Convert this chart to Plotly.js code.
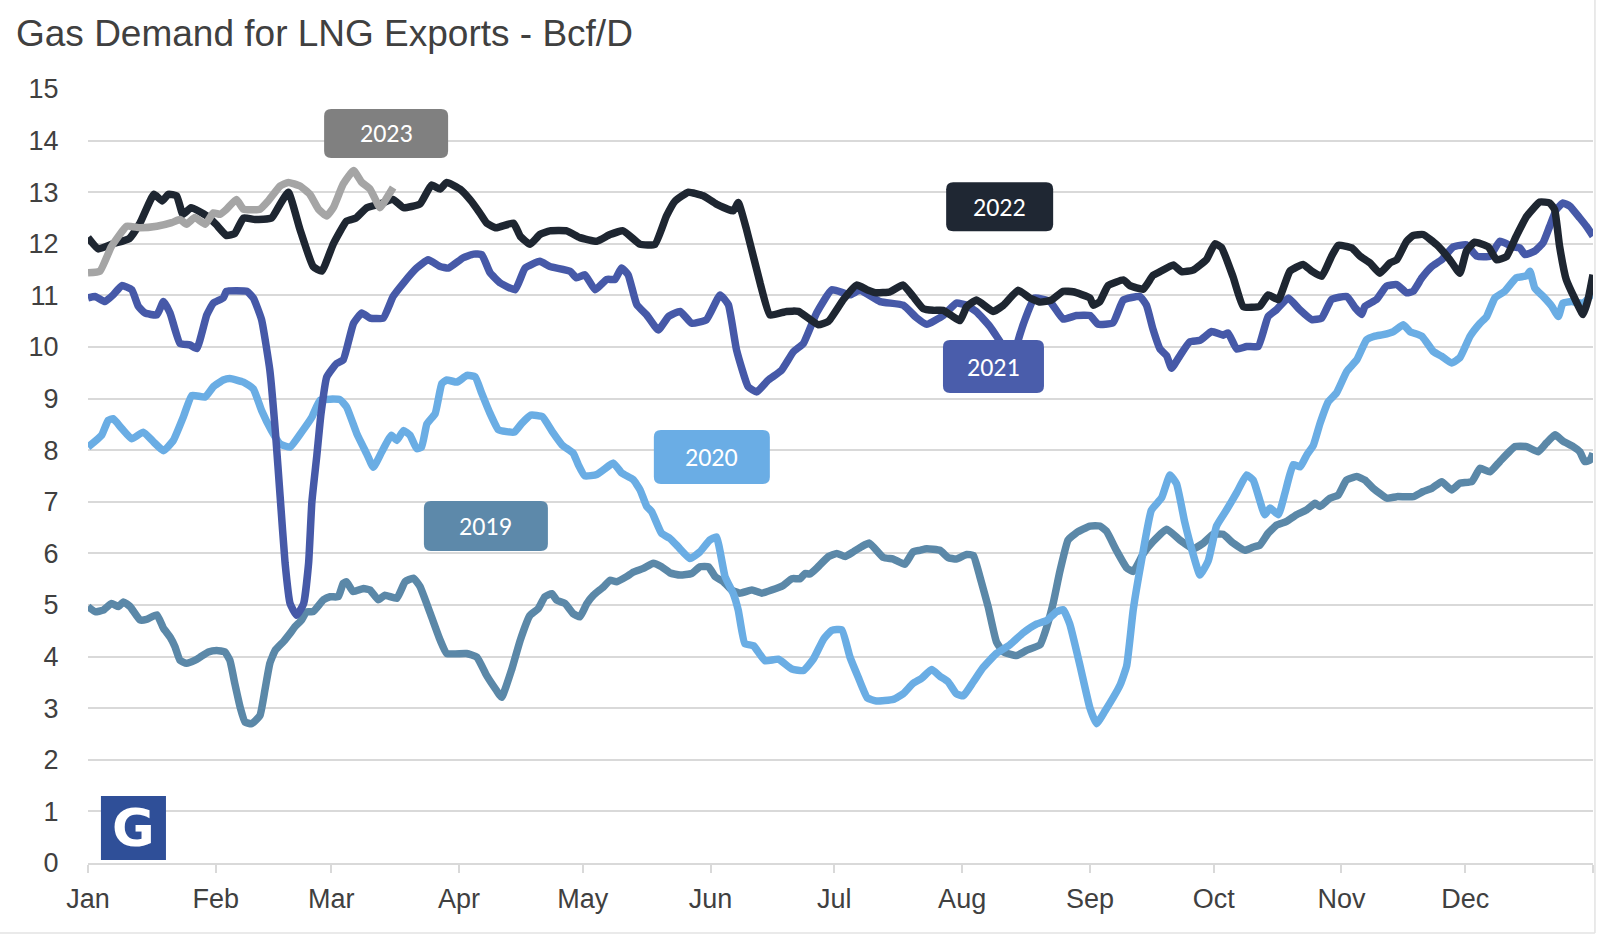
<!DOCTYPE html>
<html>
<head>
<meta charset="utf-8">
<script src="https://cdn.plot.ly/plotly-3.0.1.min.js"></script>
<style>
html,body{margin:0;padding:0;background:#ffffff;}
#chart{width:1600px;height:938px;}
</style>
</head>
<body>
<div id="chart"></div>
<script>
// ---- Axis labels ----
const monthLabels = ['Jan','Feb','Mar','Apr','May','Jun','Jul','Aug','Sep','Oct','Nov','Dec',''];
const monthStartDays = [0,31,59,90,120,151,181,212,243,273,304,334,365];

// ---- Series data: [day of year, Bcf/D] ----
const series2019 = [[0,4.97],[1.7,4.87],[3.7,4.9],[5.7,5.03],[7.4,4.97],[8.6,5.06],[10.2,4.97],[12.6,4.71],[14.2,4.72],[16.7,4.81],[18.3,4.55],[19.9,4.38],[21.1,4.19],[22.3,3.93],[23.9,3.87],[26,3.93],[27.2,3.99],[29.2,4.09],[31.2,4.12],[33.2,4.09],[34.4,3.93],[35.6,3.48],[36.9,3.02],[38.1,2.73],[39.7,2.7],[41.7,2.86],[42.9,3.35],[44.1,3.87],[45.4,4.12],[47.4,4.29],[49,4.45],[50.2,4.58],[51.8,4.71],[53,4.87],[54.6,4.87],[57.1,5.1],[58.7,5.16],[60.7,5.16],[61.9,5.42],[62.7,5.45],[64.3,5.26],[66.8,5.32],[68.4,5.29],[70.4,5.1],[72,5.19],[74.9,5.13],[76.9,5.45],[78.9,5.52],[80.5,5.36],[83,4.84],[85.4,4.32],[87,4.06],[91.8,4.06],[94.3,3.99],[96.7,3.63],[99.1,3.34],[100.3,3.21],[102.8,3.76],[104.8,4.31],[107.2,4.8],[109.2,4.93],[110.8,5.16],[112.5,5.22],[113.7,5.09],[115.7,5.03],[117.7,4.83],[119.3,4.77],[121,5.03],[122.6,5.19],[125,5.35],[126.6,5.48],[128.2,5.45],[130.6,5.55],[132.3,5.64],[134.7,5.71],[137.1,5.81],[139.1,5.74],[141.2,5.62],[143.6,5.58],[146.4,5.61],[148.4,5.74],[150.5,5.74],[152.1,5.55],[154.1,5.45],[156.1,5.29],[158.1,5.23],[161,5.29],[163.4,5.23],[165.8,5.29],[168.6,5.38],[170.7,5.51],[172.7,5.51],[173.9,5.61],[175.1,5.6],[176.7,5.71],[179.6,5.94],[181.6,6.0],[183.6,5.94],[185.6,6.03],[187.6,6.13],[189.5,6.2],[192.9,5.92],[195.3,5.89],[198.1,5.79],[200.1,6.03],[201.8,6.06],[203.4,6.09],[206.6,6.06],[208.6,5.92],[210.6,5.89],[213.1,5.98],[214.7,5.96],[216.3,5.55],[218.3,4.97],[220.3,4.29],[222,4.09],[225.2,4.02],[227.6,4.12],[230.9,4.23],[232.5,4.57],[234.1,5.04],[235.7,5.65],[237.7,6.26],[239.7,6.4],[243,6.53],[245.4,6.53],[247,6.43],[249.4,6.06],[251.9,5.72],[253.5,5.65],[255.9,5.99],[258.3,6.23],[261.6,6.47],[264.8,6.26],[268,6.09],[270.5,6.2],[272.9,6.37],[275.3,6.37],[277.7,6.2],[280.6,6.06],[282.5,6.12],[284.2,6.16],[286.2,6.39],[288.3,6.55],[290.7,6.62],[293.1,6.75],[295.5,6.84],[297.6,6.97],[298.8,6.91],[301.2,7.07],[303.2,7.13],[305.2,7.42],[307.7,7.49],[309.7,7.42],[311.7,7.26],[315,7.07],[317.4,7.1],[321.4,7.1],[323.8,7.2],[325.9,7.26],[328.3,7.39],[330.7,7.23],[332.7,7.36],[335.6,7.39],[337.6,7.65],[340,7.58],[342.4,7.78],[346.1,8.07],[348.9,8.07],[351.7,7.97],[353.7,8.14],[355.8,8.3],[357.8,8.17],[360.2,8.07],[361.8,7.97],[363,7.78],[364.3,7.81],[365,7.94]];

const series2020 = [[0,8.06],[3.3,8.29],[4.9,8.58],[6.1,8.61],[8.2,8.42],[10.6,8.22],[13.4,8.35],[15.9,8.16],[18.3,7.99],[20.7,8.19],[23.1,8.64],[25.2,9.06],[28.4,9.03],[30.4,9.23],[32.8,9.36],[34.4,9.39],[37.7,9.32],[40.1,9.19],[42.1,8.77],[44.5,8.38],[46.6,8.12],[49,8.06],[51.8,8.35],[54.3,8.64],[56.3,8.97],[61.1,8.98],[62.7,8.84],[65.2,8.32],[67.6,7.93],[69.2,7.67],[71.2,7.96],[73.6,8.29],[74.9,8.19],[76.5,8.38],[78.1,8.29],[79.7,8.03],[80.9,8.06],[82.2,8.51],[84.2,8.71],[85.8,9.29],[87,9.36],[89.5,9.32],[91.9,9.45],[93.9,9.42],[95.5,9.1],[97.3,8.75],[99.5,8.4],[101.5,8.36],[103.4,8.35],[105.2,8.52],[107.4,8.68],[110.2,8.65],[112.6,8.36],[115,8.1],[117.7,7.94],[118.9,7.72],[120.5,7.5],[123.4,7.53],[125,7.62],[127.4,7.75],[129.4,7.56],[132.2,7.43],[133.9,7.23],[135.5,6.91],[136.7,6.81],[139.1,6.39],[141.1,6.29],[143.1,6.13],[146,5.9],[148.4,6.03],[150.8,6.26],[152.4,6.32],[154.5,5.55],[156.5,5.22],[157.7,4.9],[159.3,4.25],[161.4,4.21],[164.2,3.92],[167.4,3.95],[170.7,3.76],[173.5,3.73],[175.9,3.95],[178.4,4.34],[180.4,4.51],[182.8,4.52],[184.8,3.99],[186.8,3.6],[189,3.2],[191.2,3.14],[195.3,3.17],[197.7,3.28],[200.1,3.48],[202.2,3.58],[204.6,3.75],[206.6,3.62],[208.6,3.51],[210.6,3.28],[212.3,3.24],[214.7,3.51],[217.1,3.79],[220.3,4.06],[223.6,4.23],[226.8,4.46],[230,4.63],[232.5,4.7],[234.9,4.87],[236.5,4.91],[238.1,4.63],[240.6,3.82],[243,3.0],[244.6,2.7],[246.6,2.94],[250.3,3.45],[251.9,3.82],[253.5,4.91],[255.5,5.86],[257.9,6.84],[260.4,7.08],[262.4,7.52],[264,7.35],[266,6.6],[268,5.99],[269.7,5.58],[271.7,5.86],[273.7,6.53],[276.1,6.84],[278.6,7.18],[281,7.52],[282.6,7.42],[285.4,6.75],[286.7,6.88],[288.7,6.75],[290.3,7.17],[292.3,7.72],[294,7.68],[295.6,7.91],[297.2,8.1],[298.8,8.52],[300.8,8.94],[302.8,9.11],[305.3,9.53],[307.7,9.75],[310.1,10.14],[312.1,10.21],[314.1,10.24],[316.6,10.3],[319,10.43],[320.6,10.3],[323.5,10.21],[326.3,9.91],[328.3,9.82],[330.7,9.69],[332.7,9.79],[335.2,10.21],[337.6,10.46],[339.2,10.59],[341.2,10.95],[343.6,11.08],[346.4,11.34],[348.9,11.38],[349.7,11.47],[350.9,11.14],[352.9,10.98],[355,10.79],[356.6,10.59],[357.7,10.85],[359.8,10.88],[362.6,10.85],[365,11.05]];

const series2021 = [[0,10.95],[1.7,10.98],[4.1,10.88],[6.1,11.01],[8.2,11.19],[10.6,11.11],[12.2,10.79],[13.8,10.66],[16.7,10.62],[18.3,10.88],[19.9,10.66],[22.3,10.07],[24.7,10.04],[26.4,9.97],[28.8,10.62],[30.4,10.85],[32.8,10.95],[33.6,11.08],[38.5,11.08],[40.1,10.95],[42.1,10.53],[44.1,9.55],[45.5,8.3],[46.6,7.1],[47.8,5.81],[49,5.03],[50.6,4.8],[52.3,5.03],[53.5,5.81],[54.3,7.0],[55.5,7.9],[56.5,8.7],[57.9,9.42],[60.3,9.68],[61.9,9.75],[64.4,10.46],[66.4,10.66],[68.4,10.56],[71.6,10.56],[74,10.98],[76.5,11.24],[79.7,11.53],[82.5,11.69],[85.4,11.56],[87.4,11.53],[91,11.73],[93.5,11.8],[95.5,11.79],[97.5,11.44],[100,11.24],[103.6,11.11],[106,11.53],[109.6,11.66],[112,11.56],[116.9,11.47],[118.5,11.34],[120.5,11.4],[123,11.11],[125.8,11.31],[127.8,11.31],[129.4,11.53],[131,11.4],[133.1,10.82],[135.5,10.62],[138.3,10.33],[140.8,10.59],[143.6,10.69],[146.4,10.46],[150,10.53],[153.3,11.01],[155.3,10.82],[157.3,9.94],[160.1,9.23],[162.2,9.13],[165,9.36],[168.2,9.55],[171.1,9.91],[173.5,10.07],[176.7,10.66],[180.4,11.11],[184.8,11.01],[187.2,11.1],[192.1,10.88],[197.7,10.81],[200.9,10.57],[203.4,10.44],[207.4,10.61],[210.6,10.85],[213.1,10.81],[215.5,10.68],[218.7,10.4],[222,10.0],[224,9.6],[225.6,10.13],[227.6,10.61],[229.6,10.95],[233.3,10.88],[236.5,10.54],[239.7,10.61],[243,10.61],[245,10.44],[248.6,10.47],[251.1,10.91],[255.1,10.98],[256.7,10.81],[258.3,10.34],[260,9.96],[261.6,9.83],[262.8,9.59],[264.8,9.83],[267.2,10.1],[269.7,10.13],[272.5,10.3],[275.3,10.23],[276.5,10.27],[278.6,9.96],[281,10.01],[283.8,10.01],[286.2,10.59],[288.2,10.72],[291.1,10.95],[293.9,10.72],[296.8,10.53],[299.2,10.56],[301.6,10.92],[305.3,10.98],[307.3,10.76],[308.9,10.63],[309.7,10.79],[312.5,10.92],[314.9,11.18],[317.4,11.21],[319.8,11.05],[321.4,11.08],[323.5,11.34],[325.9,11.56],[328.3,11.69],[331.1,11.94],[334.3,11.98],[336.8,11.76],[340,11.76],[342.4,12.05],[345.6,11.94],[347.3,11.92],[348.5,11.79],[350.9,11.86],[352.9,12.02],[354.5,12.34],[356.1,12.66],[357.7,12.79],[359.4,12.73],[361.8,12.5],[363.4,12.34],[365,12.15]];

const series2022 = [[0,12.12],[2.5,11.9],[6,12.0],[10,12.1],[12.6,12.4],[16,12.96],[18,12.83],[19.5,12.96],[21.5,12.93],[23,12.57],[25,12.7],[28.8,12.54],[31,12.38],[33.6,12.16],[35.6,12.2],[37.7,12.5],[40.5,12.47],[44.5,12.5],[46.6,12.77],[48.6,13.0],[51.4,12.28],[54.6,11.56],[56.7,11.47],[59.5,12.0],[62.7,12.44],[65,12.5],[67.6,12.7],[70.8,12.77],[74,12.86],[76.5,12.7],[80.5,12.77],[83.3,13.14],[85.4,13.06],[87,13.19],[90.2,13.06],[92.7,12.85],[95,12.6],[96.7,12.4],[99,12.31],[103.2,12.4],[104.8,12.15],[107.2,11.99],[109.6,12.18],[112,12.25],[116.1,12.25],[119.3,12.12],[123.4,12.05],[126.6,12.18],[129.8,12.25],[133.9,11.99],[137.5,11.99],[140.3,12.54],[142.4,12.83],[145.6,13.0],[149.2,12.93],[152.4,12.77],[156.5,12.64],[157.7,12.8],[159.7,12.28],[163,11.24],[165.4,10.62],[169.4,10.69],[172.3,10.69],[177.1,10.43],[179.6,10.5],[183.2,10.92],[186.4,11.2],[189.2,11.1],[191.2,11.05],[194.5,11.07],[197.7,11.2],[200.1,10.98],[202.6,10.74],[205,10.71],[207.4,10.71],[209.4,10.61],[211.5,10.51],[213.1,10.78],[215.5,10.91],[219.5,10.69],[222,10.81],[225.6,11.1],[228.4,10.95],[230.9,10.87],[233.7,10.91],[236.5,11.08],[238.9,11.07],[243,10.95],[243.8,10.81],[245.4,10.88],[247.4,11.19],[251.1,11.3],[252.7,11.19],[255.9,11.12],[258.3,11.39],[260,11.46],[263.2,11.59],[265.2,11.46],[268,11.49],[271.3,11.7],[273.3,12.0],[274.9,11.93],[277.7,11.36],[280.2,10.78],[284.2,10.79],[286.2,11.01],[288.7,10.92],[291.5,11.47],[294.7,11.6],[296.8,11.47],[299.2,11.37],[301.6,11.76],[303.2,11.97],[306.5,11.92],[308.5,11.76],[310.9,11.63],[313.3,11.43],[315.8,11.63],[317.4,11.69],[319.8,12.05],[321.4,12.16],[323.8,12.18],[327.1,11.98],[330.3,11.69],[332.7,11.43],[334.3,11.86],[336.3,12.03],[339.6,11.94],[341.6,11.69],[344,11.75],[346.4,12.15],[348.9,12.53],[352.1,12.81],[354.5,12.79],[355.7,12.66],[356.9,11.95],[358.5,11.31],[360.5,10.95],[362.6,10.63],[363.8,10.92],[365,11.4]];

const series2023 = [[0,11.44],[2.9,11.47],[5.7,11.95],[9.4,12.34],[12.6,12.31],[16.7,12.34],[20.3,12.41],[22.3,12.47],[23.9,12.38],[25.9,12.51],[28.4,12.38],[30.4,12.6],[32,12.57],[33.6,12.67],[36,12.86],[37.7,12.67],[41.7,12.67],[43.7,12.83],[46.6,13.12],[48.6,13.19],[51.4,13.12],[53.8,12.96],[55.9,12.67],[57.9,12.54],[59.5,12.7],[61.9,13.16],[64.4,13.42],[66.4,13.19],[68.4,13.06],[70.8,12.7],[72,12.83],[74,13.09]];

// ---- Series labels (text, anchor day, anchor value) ----
const seriesNames = ['2019','2020','2021','2022','2023'];
const seriesData = [series2019, series2020, series2021, series2022, series2023];
const lineColors = ['#5b88a8','#6aade4','#4659a8','#1e2631','#a5a5a5'];
const boxColors = ['#5d89aa','#6aade5','#4a5dab','#1f2733','#808080'];
const labelDays = [96.5, 151.3, 219.6, 221.1, 72.3];
const labelValues = [6.53, 7.87, 9.62, 12.72, 14.14];
const labelSizes = [[124,50],[116,54],[101,53],[107,49],[124,49]];

const FONT = 'Liberation Sans, Arial, sans-serif';
const LABEL_FONT = 'Carlito, Lato, Open Sans, sans-serif';

const traces = seriesData.map((s, i) => ({
  type: 'scatter',
  mode: 'lines',
  x: s.map(p => p[0]),
  y: s.map(p => p[1]),
  line: {color: lineColors[i], width: 7.5, shape: 'spline', smoothing: 0.4},
  hoverinfo: 'skip',
  showlegend: false,
  name: seriesNames[i]
}));

function roundRect(w, h, r) {
  const a = w/2, b = h/2;
  return `M ${-a+r},${-b} L ${a-r},${-b} Q ${a},${-b} ${a},${-b+r} L ${a},${b-r} Q ${a},${b} ${a-r},${b} ` +
         `L ${-a+r},${b} Q ${-a},${b} ${-a},${b-r} L ${-a},${-b+r} Q ${-a},${-b} ${-a+r},${-b} Z`;
}

const shapes = [];
const annotations = [];
seriesNames.forEach((name, i) => {
  shapes.push({
    type: 'path', layer: 'above',
    xref: 'x', yref: 'y',
    xsizemode: 'pixel', ysizemode: 'pixel',
    xanchor: labelDays[i], yanchor: labelValues[i],
    path: roundRect(labelSizes[i][0], labelSizes[i][1], 7),
    fillcolor: boxColors[i], line: {width: 0}
  });
  annotations.push({
    text: name, x: labelDays[i], y: labelValues[i], xref: 'x', yref: 'y',
    showarrow: false, xanchor: 'center', yanchor: 'middle',
    font: {family: LABEL_FONT, size: 26, color: '#ffffff'}
  });
});

// Logo (blue square with white G)
shapes.push({
  type: 'rect', layer: 'above', xref: 'paper', yref: 'paper',
  x0: 0.0086, x1: 0.0518, y0: 0.0039, y1: 0.0866,
  fillcolor: '#2f4f98', line: {width: 0}
});
annotations.push({
  text: '<b>G</b>', xref: 'paper', yref: 'paper', x: 0.0302, y: 0.0452,
  showarrow: false, xanchor: 'center', yanchor: 'middle',
  font: {family: 'DejaVu Sans, sans-serif', size: 52, color: '#ffffff'}
});

// Chart frame (right and bottom border)
shapes.push({type:'line', xref:'paper', yref:'paper', x0:1.0013, x1:1.0013, y0:-0.0904, y1:1.12,
  line:{color:'#e3e3e3', width:1.5}});
shapes.push({type:'line', xref:'paper', yref:'paper', x0:-0.06, x1:1.0013, y0:-0.0904, y1:-0.0904,
  line:{color:'#e3e3e3', width:1.5}});

const layout = {
  width: 1600, height: 938,
  margin: {l: 88, r: 7, t: 89, b: 75},
  paper_bgcolor: '#ffffff', plot_bgcolor: '#ffffff',
  title: {
    text: 'Gas Demand for LNG Exports - Bcf/D',
    xref: 'container', yref: 'container',
    x: 0.01, xanchor: 'left', y: 0.965, yanchor: 'middle',
    font: {family: FONT, size: 37, color: '#404040'}
  },
  xaxis: {
    range: [0, 365],
    tickmode: 'array', tickvals: monthStartDays, ticktext: monthLabels,
    showgrid: false, zeroline: false,
    showline: true, linecolor: '#d9d9d9', linewidth: 2,
    ticks: 'outside', ticklen: 8, tickwidth: 2, tickcolor: '#d9d9d9',
    ticklabelstandoff: 3,
    tickfont: {family: FONT, size: 27, color: '#404040'},
    fixedrange: true
  },
  yaxis: {
    range: [0, 15], tick0: 0, dtick: 1,
    showgrid: true, gridcolor: '#d9d9d9', gridwidth: 2,
    zeroline: false, showline: false,
    ticks: 'outside', ticklen: 23, tickcolor: 'rgba(0,0,0,0)',
    tickfont: {family: FONT, size: 27, color: '#404040'},
    fixedrange: true
  },
  shapes: shapes,
  annotations: annotations,
  showlegend: false
};

Plotly.newPlot('chart', traces, layout, {displayModeBar: false, staticPlot: true});
</script>
</body>
</html>
